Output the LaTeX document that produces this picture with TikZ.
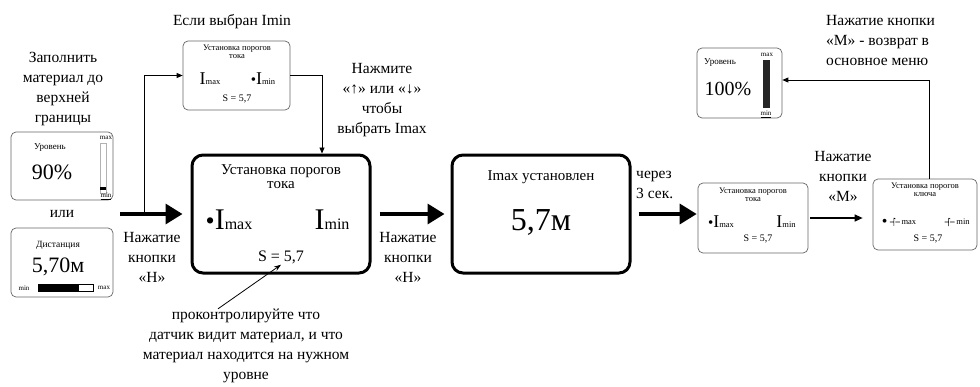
\documentclass[tikz,border=0pt]{standalone}
\usepackage{fontspec}
\setmainfont{Liberation Serif}
\usetikzlibrary{arrows.meta,positioning}

\newcommand{\fs}[2]{\fontsize{#1}{#2}\selectfont}
\newcommand{\Ith}[3]{{\fs{#1}{#1}I}{\fs{#2}{#2}#3}}
\newcommand{\keysym}{\tikz[baseline=-0.6ex]\draw[line width=0.6pt] (0pt,0pt)--(4pt,0pt) (4pt,-4pt)--(4pt,4pt) (4pt,4pt)--(5.5pt,3pt) (5.5pt,0pt)--(10pt,0pt);}

\begin{document}
\begin{tikzpicture}[x=1pt,y=-1pt,
    txt/.style={align=center,inner sep=0pt,font=\fs{15.5}{20}},
    tiny/.style={inner sep=0pt,font=\fs{7}{7}},
    panel/.style={draw=black!60,line width=0.7pt,rounded corners=5pt,inner sep=0pt},
    screen/.style={draw,line width=3pt,rounded corners=11pt,inner sep=0pt,minimum width=178pt,minimum height=118pt},
    push/.style={-{Triangle[length=17pt,width=20pt]},line width=3.5pt},
    link/.style={-{Triangle[length=6pt,width=5pt]},line width=0.8pt},
    hint/.style={-{Stealth[length=7pt,width=5pt]},line width=0.8pt}]
    \useasboundingbox (0,0) rectangle (980,386);

    % left: level and distance screens
    \node[txt] (fill) at (63,89) {Заполнить\\материал до\\верхней\\границы};
    \node[panel,minimum width=102pt,minimum height=68pt] (lv1) at (62,166) {};
    \node[inner sep=0pt,font=\fs{9}{9}] (lv1t) at (50,148) {Уровень};
    \node[inner sep=0pt,font=\fs{22}{22}] (lv1v) at (52,172) {90\%};
    \draw[black!30,line width=0.6pt] (100,143) rectangle (106,193);
    \fill (100,187) rectangle (106,190);
    \node[tiny] (lv1max) at (106,138) {max};
    \node[tiny] (lv1min) at (106,196) {\underline{min}};
    \node[txt] (or) at (62,214) {или};
    \node[panel,minimum width=102pt,minimum height=69pt] (dist) at (62,262.5) {};
    \node[inner sep=0pt,font=\fs{9.5}{9.5}] (distt) at (58,245) {Дистанция};
    \node[inner sep=0pt,font=\fs{22}{22}] (distv) at (58,267) {5,70м};
    \node[tiny] (distmin) at (24,288) {min};
    \node[tiny] (distmax) at (104,288) {max};
    \draw[line width=0.6pt] (38,284) rectangle (93,291);
    \fill (38,284) rectangle (79,291);

    % top: Imin selected
    \node[txt] (ifmin) at (232,22) {Если выбран Imin};
    \node[panel,minimum width=107pt,minimum height=69pt] (top) at (236.5,75.5) {};
    \node[align=center,inner sep=0pt,font=\fs{8.5}{8}] (topt) at (237,52) {Установка порогов\\тока};
    \node[inner sep=0pt] (topa) at (210,79) {\Ith{18}{8.5}{max}};
    \node[inner sep=0pt] (topb) at (263,79) {{\fs{15}{15}•}\Ith{18}{8.5}{min}};
    \node[inner sep=0pt,font=\fs{10}{10}] (tops) at (237,99) {S = 5,7};
    \node[txt] (pick) at (382,100) {Нажмите\\«↑» или «↓»\\чтобы\\выбрать Imax};

    % main screens
    \node[screen] (b1) at (281,214) {};
    \node[align=center,inner sep=0pt,font=\fs{15}{14}] (b1t) at (281,177) {Установка порогов\\тока};
    \node[inner sep=0pt] (b1a) at (229,220) {{\fs{26}{26}•}\Ith{30}{16}{max}};
    \node[inner sep=0pt] (b1b) at (332,220) {\Ith{30}{16}{min}};
    \node[inner sep=0pt,font=\fs{16}{16}] (b1s) at (281,257) {S = 5,7};
    \node[screen] (b2) at (541,214) {};
    \node[inner sep=0pt,font=\fs{15}{15}] (b2t) at (541,177) {Imax установлен};
    \node[inner sep=0pt,font=\fs{32}{32}] (b2v) at (541,222) {5,7м};
    \node[txt] (h1) at (152,257) {Нажатие\\кнопки\\«Н»};
    \node[txt] (h2) at (408,257) {Нажатие\\кнопки\\«Н»};
    \node[txt,align=left,anchor=west] (wait) at (636,185) {через\\3 сек.};
    \node[txt] (note) at (246,346) {проконтролируйте что\\датчик видит материал, и что\\материал находится на нужном\\уровне};

    % right: small screens
    \node[panel,minimum width=110pt,minimum height=70pt] (sb3) at (753,218) {};
    \node[align=center,inner sep=0pt,font=\fs{8.5}{8}] (sb3t) at (753,195) {Установка порогов\\тока};
    \node[inner sep=0pt] (sb3a) at (721,222) {{\fs{15}{15}•}\Ith{18}{8.5}{max}};
    \node[inner sep=0pt] (sb3b) at (786,222) {\Ith{18}{8.5}{min}};
    \node[inner sep=0pt,font=\fs{10}{10}] (sb3s) at (758,239) {S = 5,7};
    \node[txt] (m1) at (843,176) {Нажатие\\кнопки\\«М»};
    \node[panel,minimum width=104pt,minimum height=71pt] (sb4) at (925,214.5) {};
    \node[align=center,inner sep=0pt,font=\fs{8.5}{8}] (sb4t) at (925,190) {Установка порогов\\ключа};
    \node[inner sep=0pt,font=\fs{8.5}{8.5}] (sb4a) at (899,222) {\raisebox{-2pt}{\fs{16}{16}•} \keysym\,max};
    \node[inner sep=0pt,font=\fs{8.5}{8.5}] (sb4b) at (957,222) {\keysym\,min};
    \node[inner sep=0pt,font=\fs{10}{10}] (sb4s) at (928,239) {S = 5,7};
    \node[panel,minimum width=85pt,minimum height=70pt] (lv3) at (739.5,83) {};
    \node[inner sep=0pt,font=\fs{9}{9}] (lv3t) at (720,63) {Уровень};
    \node[inner sep=0pt,font=\fs{20}{20}] (lv3v) at (728,89) {100\%};
    \fill[black!85] (763,60) rectangle (770,108);
    \node[tiny] (lv3max) at (767,55) {max};
    \node[tiny] (lv3min) at (766,114) {\underline{min}};
    \node[txt,align=left,anchor=west] (back) at (826,40) {Нажатие кнопки\\«М» - возврат в\\основное меню};

    % connectors
    \coordinate (start) at (120,214);
    \coordinate (fork) at (144,214);
    \draw[push,shorten >=8pt] (start) -- (b1.west);
    \draw[link] (fork) |- (top.west);
    \draw[link] (top.east) -| ([xshift=41pt]b1.north);
    \draw[push,shorten <=8pt,shorten >=6pt] (b1.east) -- (b2.west);
    \draw[push,shorten <=7pt,shorten >=1pt] (b2.east) -- (b2.east -| sb3.west);
    \draw[-{Triangle[length=8pt,width=7pt]},line width=1.3pt,shorten <=2pt,shorten >=10pt] (sb3.east) -- (sb3.east -| sb4.west);
    \draw[link] ([xshift=4pt]sb4.north) |- ([yshift=3pt]lv3.east);
    \draw[hint] ([xshift=-28pt]note.north) -- ([yshift=-1pt]b1s.south);
\end{tikzpicture}
\end{document}
